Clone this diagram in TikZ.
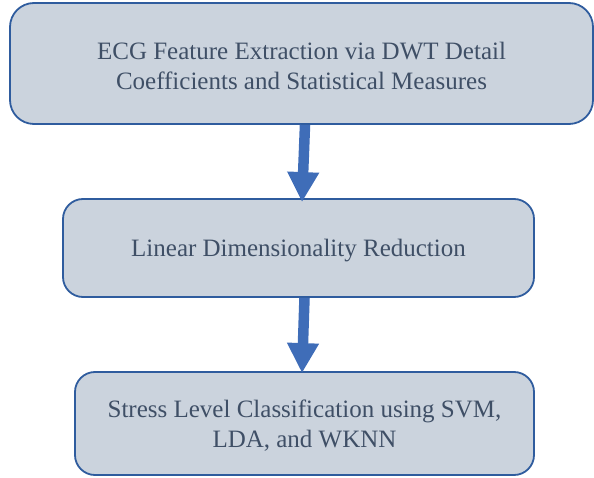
\documentclass[tikz,border=0pt]{standalone}
\usepackage{fontspec}
\setmainfont{Liberation Serif}
\usetikzlibrary{arrows.meta,calc}
\definecolor{boxfill}{HTML}{CBD3DD}
\definecolor{boxline}{HTML}{2F5C9E}
\definecolor{boxtext}{HTML}{3F4F66}
\definecolor{arrowc}{HTML}{3F6DB8}
\tikzset{
  flowbox/.style={draw=boxline, line width=1.8pt, fill=boxfill, inner sep=0pt},
  boxlabel/.style={text=boxtext, align=center, inner sep=0pt,
    font=\fontsize{25}{30}\selectfont},
  blockarrow/.style={line width=10.5pt, draw=arrowc,
    -{Triangle[width=30pt,length=30pt,fill=arrowc]}}
}
\begin{document}
\begin{tikzpicture}[x=1pt,y=1pt]
\useasboundingbox (0,0) rectangle (594,477);
\node[flowbox, rounded corners=24pt, minimum width=583pt, minimum height=121pt] (b1) at (301.5,413.5) {};
\node[flowbox, rounded corners=20pt, minimum width=471pt, minimum height=98pt] (b2) at (298.5,229) {};
\node[flowbox, rounded corners=20pt, minimum width=459pt, minimum height=103pt] (b3) at (304.5,53.5) {};
\node[boxlabel] (t1) at ($(b1.center)+(0,-2.5)$)
  {ECG Feature Extraction via DWT Detail\\Coefficients and Statistical Measures};
\node[boxlabel] (t2) at ($(b2.center)+(0,-2.5)$) {Linear Dimensionality Reduction};
\node[boxlabel] (t3) at ($(b3.center)+(0,-2.5)$)
  {Stress Level Classification using SVM,\\LDA, and WKNN};
\draw[blockarrow] ($(b1.south)+(3.5,0)$) -- ($(b2.north)+(3.5,-4)$);
\draw[blockarrow] ($(b2.south)+(6,0)$) -- ($(b3.north)+(-2.5,-2)$);
\end{tikzpicture}
\end{document}
